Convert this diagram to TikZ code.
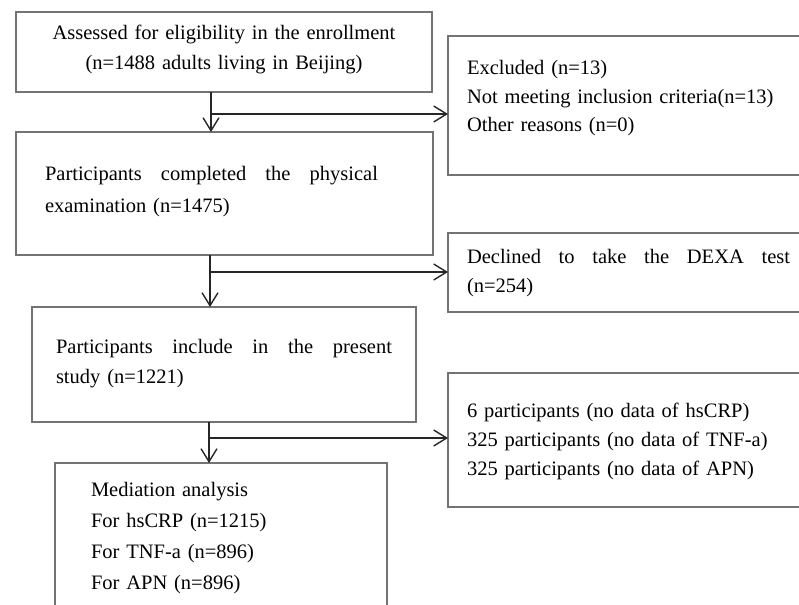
\documentclass[tikz,border=0pt]{standalone}
\usepackage{fontspec}
\setmainfont{Liberation Serif}
\usetikzlibrary{arrows.meta,positioning}

\begin{document}
\begin{tikzpicture}[
        x=1pt, y=-1pt,
        caja/.style={draw=black!55, line width=1.3pt, anchor=north west, outer sep=0pt, inner ysep=0pt, align=left, font=\fontsize{20.5}{29}\selectfont},
        lateral/.style={caja, text width=329pt, inner xsep=19pt},
        flecha/.style={-{Straight Barb[length=13pt, width=16pt, line width=1.4pt]}, line width=1.5pt, black!85}
    ]
        \useasboundingbox (0,0) rectangle (799,604);

        % columna principal
        \node[caja, align=center, text width=396pt, inner xsep=10pt, text height=28pt, text depth=52pt, font=\fontsize{20.5}{30}\selectfont] (assess) at (16,12) {Assessed for eligibility in the enrollment\\(n=1488 adults living in Beijing)};
        \node[caja, text width=359pt, inner xsep=29pt, text height=48pt, text depth=75pt, font=\fontsize{20.5}{32}\selectfont] (exam) at (16,132) {\hbox to 333pt{Participants\hfill completed\hfill the\hfill physical}\\examination (n=1475)};
        \node[caja, text width=336pt, inner xsep=24pt, text height=46pt, text depth=69pt, font=\fontsize{20.5}{30}\selectfont] (incl) at (32,307) {\hbox to 336pt{Participants\hfill include\hfill in\hfill the\hfill present}\\study (n=1221)};
        \node[caja, text width=260pt, inner xsep=36pt, text height=33pt, text depth=124pt, font=\fontsize{20.5}{31}\selectfont] (media) at (55,463) {Mediation analysis\\For hsCRP (n=1215)\\For TNF-a (n=896)\\For APN (n=896)};

        % cajas de exclusión
        \node[lateral, text height=39pt, text depth=100pt, font=\fontsize{20.5}{28.5}\selectfont] (excl) at (448,36) {Excluded (n=13)\\Not meeting inclusion criteria(n=13)\\Other reasons (n=0)};
        \node[lateral, text height=30pt, text depth=49pt] (dexa) at (448,233) {\hbox to 323pt{Declined\hfill to\hfill take\hfill the\hfill DEXA\hfill test}\\(n=254)};
        \node[lateral, text height=44pt, text depth=90pt] (miss) at (448,373) {6 participants (no data of hsCRP)\\325 participants (no data of TNF-a)\\325 participants (no data of APN)};

        % puntos de bifurcación
        \coordinate (j1) at (211,114);
        \coordinate (j2) at (210,272);
        \coordinate (j3) at (209,438);

        % flechas
        \draw[flecha] (assess.south -| j1) -- (exam.north -| j1);
        \draw[flecha] (j1) -- (j1 -| excl.west);
        \draw[flecha] (exam.south -| j2) -- (incl.north -| j2);
        \draw[flecha] (j2) -- (j2 -| dexa.west);
        \draw[flecha] (incl.south -| j3) -- (media.north -| j3);
        \draw[flecha] (j3) -- (j3 -| miss.west);

    \end{tikzpicture}
\end{document}
